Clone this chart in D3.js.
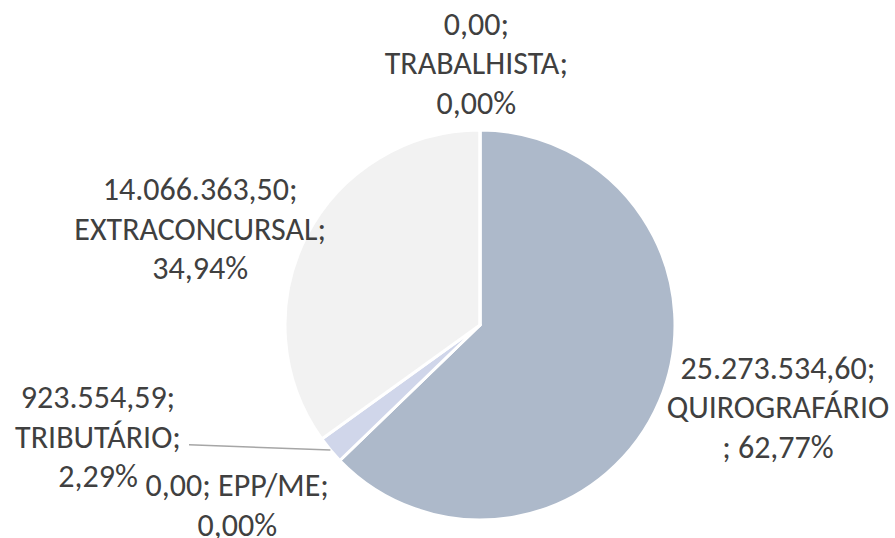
<!DOCTYPE html>
<html>
<meta charset="utf-8">
<head>
  <title>Pie</title>
</head>
<style>
body { margin: 0; background: #fff; }
text { font-family: Carlito, Lato, sans-serif; font-size: 32px; fill: #404040; }
</style>
<body>
<svg width="895" height="538"></svg>
<script src="https://d3js.org/d3.v7.min.js"></script>
<script>
var width = 895, height = 538

// data, in drawing order (clockwise from 12 o'clock)
var categories = ['QUIROGRAFÁRIO', 'EPP/ME', 'TRIBUTÁRIO', 'EXTRACONCURSAL', 'TRABALHISTA']
var values = [25273534.60, 0, 923554.59, 14066363.50, 0]
var percents = ['62,77%', '0,00%', '2,29%', '34,94%', '0,00%']
var valueLabels = ['25.273.534,60', '0,00', '923.554,59', '14.066.363,50', '0,00']
var colors = ['#adb9ca', '#d9d9d9', '#d0d6ea', '#f2f2f2', '#d9d9d9']

// how each label is broken into lines
var labelLines = [
  [valueLabels[0] + ';', 'QUIROGRAFÁRIO', '; ' + percents[0]],
  [valueLabels[1] + '; ' + categories[1] + ';', percents[1]],
  [valueLabels[2] + ';', categories[2] + ';', percents[2]],
  [valueLabels[3] + ';', categories[3] + ';', percents[3]],
  [valueLabels[4] + ';', categories[4] + ';', percents[4]]
]

var cx = 480, cy = 325, radius = 195
// label placement (polar, relative to pie center)
var labelRadius = [309, 302, 398, 296, 262]
var labelAngle = [105.4, 233.5, 253.7, 289, 359.2]
var lineHeight = 39.5

var svg = d3.select('svg')
var g = svg.append('g').attr('transform', 'translate(' + cx + ',' + cy + ')')

var pie = d3.pie().sort(null).value(function(d) { return d })
var arcs = pie(values)
var arc = d3.arc().innerRadius(0).outerRadius(radius)

g.selectAll('path')
  .data(arcs)
  .enter()
  .append('path')
  .attr('d', arc)
  .attr('fill', function(d, i) { return colors[i] })
  .attr('stroke', '#fff')
  .attr('stroke-width', 3)
  .attr('stroke-linejoin', 'round')

function polar(r, deg) {
  var a = deg * Math.PI / 180
  return [r * Math.sin(a), -r * Math.cos(a)]
}

// leader line for TRIBUTÁRIO
var tribMid = (arcs[2].startAngle + arcs[2].endAngle) / 2
var p0 = [Math.sin(tribMid) * radius, -Math.cos(tribMid) * radius]
var lp = polar(labelRadius[2], labelAngle[2])
g.append('line')
  .attr('x1', lp[0] + 91).attr('y1', lp[1] + 8)
  .attr('x2', p0[0]).attr('y2', p0[1])
  .attr('stroke', '#a6a6a6')
  .attr('stroke-width', 1.5)

var labels = g.selectAll('text.lbl')
  .data(labelLines)
  .enter()
  .append('text')
  .attr('class', 'lbl')
  .attr('text-anchor', 'middle')
  .attr('transform', function(d, i) {
    var p = polar(labelRadius[i], labelAngle[i])
    var top = p[1] - (d.length - 1) * lineHeight / 2
    return 'translate(' + p[0] + ',' + top + ')'
  })

labels.selectAll('tspan')
  .data(function(d) { return d })
  .enter()
  .append('tspan')
  .attr('x', 0)
  .attr('y', function(d, j) { return j * lineHeight })
  .attr('dy', '0.35em')
  .text(function(d) { return d })
</script>
</body>
</html>
